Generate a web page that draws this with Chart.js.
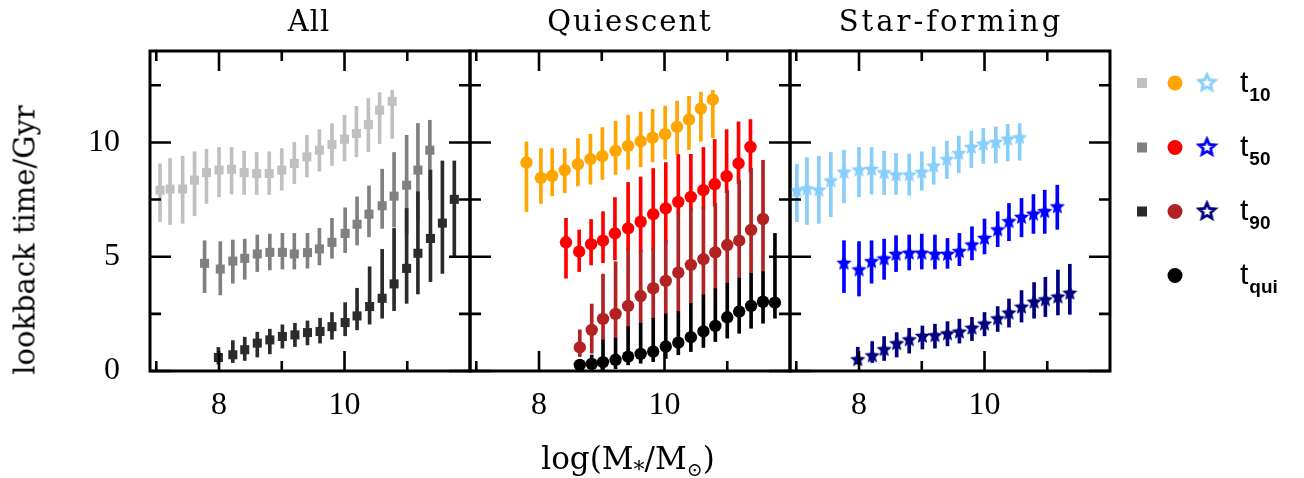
<!DOCTYPE html>
<html>
<head>
<meta charset="utf-8">
<script src="https://cdn.jsdelivr.net/npm/chart.js@4.4.1/dist/chart.umd.min.js"></script>
<style>
  html, body { margin: 0; padding: 0; background: #fff; }
  #wrap { position: relative; width: 1304px; height: 478px; overflow: hidden; background: #fff; }
  #wrap canvas { position: absolute; left: 0; top: 0; }
  .txt { position: absolute; font-family: "DejaVu Serif", serif; color: #000; white-space: nowrap; line-height: 1; }
  .title { font-size: 29px; top: 7px; transform: translateX(-50%); }
  .leg { position: absolute; font-family: "Liberation Sans", Arial, sans-serif; font-size: 30px; line-height: 1; color: #000; white-space: nowrap; }
  .leg span { position: relative; top: 9px; font-size: 19px; font-weight: bold; margin-left: 1px; }
</style>
</head>
<body>
<div id="wrap">
  <canvas id="c1" width="1304" height="478"></canvas>
  <canvas id="c2" width="1304" height="478"></canvas>
  <canvas id="c3" width="1304" height="478"></canvas>
  <div class="txt title" style="left:309px;letter-spacing:1px;">All</div>
  <div class="txt title" style="left:630px;letter-spacing:2px;">Quiescent</div>
  <div class="txt title" style="left:951px;letter-spacing:3px;">Star-forming</div>
  <div class="txt" style="font-size:29px;left:25px;top:240px;transform:translate(-50%,-50%) rotate(-90deg);">lookback time/Gyr</div>
  <div class="txt" style="font-size:31px;left:628px;top:443px;transform:translateX(-50%);">log(M<span style="position:relative;top:8px;font-size:22px;">*</span>/M<span style="position:relative;top:7px;font-size:19px;">&#8857;</span>)</div>
  <div class="leg" style="left:1240px;top:67px;">t<span>10</span></div>
  <div class="leg" style="left:1240px;top:131px;">t<span>50</span></div>
  <div class="leg" style="left:1240px;top:195px;">t<span>90</span></div>
  <div class="leg" style="left:1240px;top:259px;">t<span>qui</span></div>
</div>
<script>
// ---------------- DATA ----------------
// tick values
const xMajorTicks = [8, 10];
const xMinorTicks = [7, 9, 11];
const yMajorTicks = [0, 5, 10];
const yMinorTicks = [2.5, 7.5, 12.5];
const xTickLabels = [8, 10];
const yTickLabels = [0, 5, 10];

// Panel "All"
const allT10X  = [7.06,7.22,7.42,7.61,7.80,8.00,8.20,8.40,8.60,8.80,9.00,9.20,9.40,9.60,9.80,10.00,10.19,10.38,10.56,10.76];
const allT10Y  = [7.91,7.96,7.96,8.35,8.68,8.79,8.83,8.68,8.64,8.64,8.79,9.08,9.37,9.66,9.91,10.14,10.39,10.78,11.41,11.80];
const allT10Lo = [6.54,6.41,6.46,6.79,7.33,7.62,7.74,7.72,7.72,7.72,7.91,8.20,8.49,8.74,8.99,9.19,9.37,9.59,9.95,10.17];
const allT10Hi = [9.06,9.30,9.40,9.59,9.70,9.78,9.78,9.62,9.56,9.59,9.73,10.00,10.31,10.56,10.82,11.19,11.58,11.92,12.18,12.28];

const allT50X  = [7.77,8.02,8.22,8.41,8.61,8.81,9.01,9.20,9.41,9.60,9.80,10.01,10.20,10.39,10.60,10.79,10.99,11.17,11.36];
const allT50Y  = [4.71,4.46,4.81,4.93,5.12,5.19,5.19,5.12,5.18,5.34,5.63,6.02,6.42,6.86,7.23,7.65,8.13,8.79,9.66];
const allT50Lo = [3.43,3.33,3.84,4.01,4.35,4.42,4.46,4.46,4.50,4.64,4.93,5.18,5.51,5.87,6.24,6.30,6.00,6.60,7.50];
const allT50Hi = [5.70,5.66,5.73,5.77,5.95,5.99,6.02,6.02,6.02,6.24,6.68,7.14,7.62,8.10,8.83,9.56,10.31,10.83,10.97];

const allT90X  = [7.99,8.22,8.41,8.61,8.81,9.01,9.21,9.41,9.61,9.80,10.01,10.20,10.40,10.60,10.79,10.99,11.17,11.37,11.56,11.75];
const allT90Y  = [0.59,0.71,0.93,1.22,1.36,1.51,1.58,1.68,1.73,1.94,2.12,2.41,2.82,3.18,3.81,4.49,5.15,5.80,6.47,7.51];
const allT90Lo = [0.30,0.37,0.46,0.61,0.75,1.00,1.07,1.14,1.22,1.39,1.54,1.80,2.05,2.31,2.64,2.96,3.37,3.91,4.27,5.00];
const allT90Hi = [1.03,1.33,1.48,1.70,1.83,2.02,2.09,2.19,2.31,2.56,2.99,3.62,4.56,5.32,6.24,7.11,7.84,8.79,9.19,9.19];

// Panel "Quiescent"
const quiT10X  = [7.80,8.03,8.21,8.41,8.62,8.82,9.01,9.22,9.42,9.62,9.81,10.01,10.20,10.39,10.58,10.77];
const quiT10Y  = [9.12,8.45,8.54,8.79,9.05,9.27,9.40,9.63,9.85,10.05,10.21,10.36,10.68,11.00,11.48,11.87];
const quiT10Lo = [6.97,7.33,7.66,7.80,8.10,8.17,8.38,8.60,8.82,8.93,9.15,9.27,9.48,9.69,10.05,10.21];
const quiT10Hi = [10.02,9.73,9.73,9.73,10.17,10.36,10.65,10.93,11.19,11.33,11.45,11.59,11.81,12.02,12.20,12.28];

const quiT50X  = [8.43,8.64,8.83,9.02,9.21,9.42,9.62,9.82,10.02,10.22,10.42,10.62,10.80,10.99,11.18,11.37];
const quiT50Y  = [5.63,5.22,5.55,5.70,6.02,6.24,6.53,6.86,7.11,7.40,7.62,7.91,8.17,8.52,9.08,9.80];
const quiT50Lo = [4.06,4.35,4.64,4.74,4.86,5.30,5.20,5.30,5.60,6.90,7.00,7.10,7.20,7.80,8.20,8.70];
const quiT50Hi = [6.68,6.17,6.63,6.97,7.59,8.25,8.49,8.86,9.12,9.47,9.48,9.78,10.13,10.56,10.90,11.00];

const quiT90X  = [8.65,8.84,9.02,9.22,9.42,9.62,9.82,10.02,10.22,10.42,10.62,10.81,11.00,11.19,11.38,11.57];
const quiT90Y  = [1.03,1.80,2.28,2.50,2.85,3.28,3.62,3.94,4.30,4.64,4.89,5.19,5.51,5.70,6.17,6.65];
const quiT90Lo = [0.63,0.78,1.36,1.44,1.94,2.09,2.31,2.50,2.60,2.96,3.33,3.60,3.84,4.06,4.27,4.35];
const quiT90Hi = [1.80,2.93,4.24,4.78,5.37,5.29,5.37,5.73,6.97,7.11,7.18,7.33,7.91,8.35,8.86,9.22];

const quiTquX  = [8.65,8.84,9.02,9.22,9.42,9.62,9.82,10.02,10.22,10.42,10.62,10.81,11.00,11.19,11.38,11.57,11.76];
const quiTquY  = [0.27,0.31,0.39,0.49,0.63,0.75,0.85,1.07,1.24,1.48,1.73,1.97,2.35,2.60,2.85,3.03,2.99];
const quiTquLo = [0.10,0.05,0.05,0.10,0.27,0.34,0.41,0.55,0.71,0.85,1.03,1.29,1.44,1.65,1.87,2.09,2.31];
const quiTquHi = [0.45,0.70,1.36,1.44,1.94,2.09,2.31,2.50,2.60,2.96,3.33,3.60,3.84,4.06,4.27,4.35,6.02];

// Panel "Star-forming"
const sfT10X  = [7.01,7.17,7.36,7.55,7.76,8.00,8.20,8.40,8.59,8.80,9.00,9.19,9.40,9.59,9.79,9.98,10.18,10.37,10.56];
const sfT10Y  = [7.88,7.96,7.91,8.31,8.69,8.79,8.82,8.67,8.57,8.57,8.69,8.96,9.25,9.51,9.78,9.92,10.00,10.14,10.20];
const sfT10Lo = [6.53,6.41,6.46,6.75,7.36,7.62,7.74,7.72,7.72,7.69,7.91,8.17,8.42,8.67,8.90,9.08,9.10,9.19,9.22];
const sfT10Hi = [9.05,9.34,9.40,9.56,9.66,9.78,9.78,9.62,9.52,9.49,9.59,9.80,10.05,10.28,10.50,10.61,10.68,10.79,10.82];

const sfT50X  = [7.76,8.00,8.20,8.40,8.59,8.80,9.00,9.21,9.41,9.60,9.80,10.00,10.21,10.39,10.59,10.78,10.96,11.16];
const sfT50Y  = [4.71,4.42,4.78,4.90,5.10,5.15,5.15,5.10,5.10,5.22,5.51,5.80,6.17,6.53,6.72,6.86,6.97,7.18];
const sfT50Lo = [3.43,3.28,3.84,4.01,4.35,4.42,4.46,4.46,4.49,4.61,4.86,5.12,5.44,5.70,5.87,6.02,6.02,6.20];
const sfT50Hi = [5.70,5.66,5.70,5.77,5.92,5.95,5.99,5.95,5.80,6.02,6.31,6.65,6.97,7.33,7.55,7.72,7.91,8.13];

const sfT90X  = [7.98,8.21,8.40,8.60,8.80,9.01,9.21,9.41,9.60,9.80,10.00,10.21,10.39,10.59,10.79,10.97,11.17,11.36];
const sfT90Y  = [0.49,0.66,0.93,1.19,1.36,1.51,1.54,1.62,1.70,1.87,2.05,2.28,2.53,2.79,3.01,3.11,3.23,3.40];
const sfT90Lo = [0.31,0.37,0.46,0.61,0.78,0.96,1.00,1.10,1.22,1.33,1.54,1.73,1.92,2.14,2.31,2.38,2.45,2.48];
const sfT90Hi = [1.04,1.29,1.51,1.68,1.87,1.97,2.05,2.16,2.27,2.35,2.56,2.82,3.15,3.52,3.87,4.10,4.42,4.67];

// ---------------- STYLE ----------------
Chart.defaults.color = '#000';
const C = {
  g1: '#c0c0c0', g2: '#808080', g3: '#2b2b2b',
  o: '#ffa500', r: '#ff0000', br: '#b22222', k: '#000000',
  lb: '#87cefa', b: '#0000ff', nv: '#000080'
};

function starCanvas(color, R, filled, lw) {
  const s = Math.ceil(2 * R + (lw || 0) + 3);
  const c = document.createElement('canvas');
  c.width = s; c.height = s;
  const g = c.getContext('2d');
  g.beginPath();
  for (let i = 0; i < 10; i++) {
    const r = i % 2 ? R * 0.46 : R;
    const a = -Math.PI / 2 + i * Math.PI / 5;
    g.lineTo(s / 2 + r * Math.cos(a), s / 2 + r * Math.sin(a));
  }
  g.closePath();
  if (filled) { g.fillStyle = color; g.fill(); }
  else { g.strokeStyle = color; g.lineWidth = lw; g.lineJoin = 'miter'; g.stroke(); }
  return c;
}

function series(xs, ys, lo, hi, color, style, radius, k) {
  return [
    { type: 'bar', data: xs.map((x, i) => ({ x: x, y: [lo[i], hi[i]] })),
      backgroundColor: color, borderWidth: 0, barThickness: 3, grouped: false, order: 20 - 2 * k },
    { type: 'scatter', data: xs.map((x, i) => ({ x: x, y: ys[i] })),
      pointStyle: style, pointRadius: radius, pointHoverRadius: radius,
      backgroundColor: color, borderColor: color, pointBorderWidth: 0, order: 19 - 2 * k }
  ];
}

const frameTicks = {
  id: 'frameTicks',
  afterDraw(chart) {
    const ctx = chart.ctx, a = chart.chartArea, xs = chart.scales.x, ys = chart.scales.y;
    ctx.save();
    ctx.strokeStyle = '#000';
    ctx.lineWidth = 2.6;
    ctx.beginPath();
    const vt = (v, L) => { const p = xs.getPixelForValue(v);
      ctx.moveTo(p, a.bottom); ctx.lineTo(p, a.bottom - L);
      ctx.moveTo(p, a.top); ctx.lineTo(p, a.top + L); };
    const ht = (v, L) => { const p = ys.getPixelForValue(v);
      ctx.moveTo(a.left, p); ctx.lineTo(a.left + L, p);
      ctx.moveTo(a.right, p); ctx.lineTo(a.right - L, p); };
    xMajorTicks.forEach(v => vt(v, 20));
    xMinorTicks.forEach(v => vt(v, 10));
    yMajorTicks.forEach(v => ht(v, 21));
    yMinorTicks.forEach(v => ht(v, 11));
    ctx.stroke();
    ctx.lineWidth = 3;
    ctx.strokeRect(a.left, a.top, a.right - a.left, a.bottom - a.top);
    ctx.restore();
  }
};

const legendRows = [83, 147.5, 211.5, 275.5];
const legendSquares = [C.g1, C.g2, C.g3];
const legendCircles = [C.o, C.r, C.br, C.k];
const legendStars = [C.lb, C.b, C.nv].map(c => starCanvas(c, 8.5, false, 2.8));
const legendPlugin = {
  id: 'sideLegend',
  afterDraw(chart) {
    const ctx = chart.ctx;
    ctx.save();
    legendSquares.forEach((c, i) => { ctx.fillStyle = c; ctx.fillRect(1137, legendRows[i] - 5, 10, 10); });
    legendCircles.forEach((c, i) => { ctx.fillStyle = c; ctx.beginPath(); ctx.arc(1175, legendRows[i], 7.5, 0, 2 * Math.PI); ctx.fill(); });
    legendStars.forEach((img, i) => ctx.drawImage(img, 1207 - img.width / 2, legendRows[i] - img.height / 2));
    ctx.restore();
  }
};

function makePanel(id, left, right, showY, datasets, extra) {
  return new Chart(document.getElementById(id), {
    type: 'scatter',
    data: { datasets: datasets },
    options: {
      responsive: false, animation: false, events: [],
      layout: { autoPadding: false, padding: { left: left, right: 1304 - right, top: 51, bottom: 0 } },
      plugins: { legend: { display: false }, tooltip: { enabled: false } },
      scales: {
        x: { type: 'linear', min: 6.9, max: 12.0, offset: false,
             grid: { display: false, drawTicks: false }, border: { display: false },
             afterBuildTicks: s => { s.ticks = xTickLabels.map(v => ({ value: v })); },
             afterFit: s => { s.height = 107; },
             ticks: { padding: 15, maxRotation: 0, font: { family: 'Liberation Serif', size: 32 }, color: '#000' } },
        y: { type: 'linear', min: 0, max: 14, display: showY,
             grid: { display: false, drawTicks: false }, border: { display: false },
             afterBuildTicks: s => { s.ticks = yTickLabels.map(v => ({ value: v })); },
             afterFit: s => { if (showY) s.width = 150; },
             ticks: { padding: 30, font: { family: 'Liberation Serif', size: 32 }, color: '#000' } }
      }
    },
    plugins: [frameTicks].concat(extra || [])
  });
}

const circle = 'circle', square = 'rect';
const sfStar1 = starCanvas(C.lb, 8, true);
const sfStar2 = starCanvas(C.b, 8, true);
const sfStar3 = starCanvas(C.nv, 8, true);

makePanel('c1', 0, 470, true, [].concat(
  series(allT10X, allT10Y, allT10Lo, allT10Hi, C.g1, square, 6.4, 0),
  series(allT50X, allT50Y, allT50Lo, allT50Hi, C.g2, square, 6.4, 1),
  series(allT90X, allT90Y, allT90Lo, allT90Hi, C.g3, square, 6.4, 2)
));

makePanel('c2', 470, 790, false, [].concat(
  series(quiT10X, quiT10Y, quiT10Lo, quiT10Hi, C.o, circle, 6.2, 0),
  series(quiT50X, quiT50Y, quiT50Lo, quiT50Hi, C.r, circle, 6.2, 1),
  series(quiT90X, quiT90Y, quiT90Lo, quiT90Hi, C.br, circle, 6.2, 2),
  series(quiTquX, quiTquY, quiTquLo, quiTquHi, C.k, circle, 6.2, 3)
));

makePanel('c3', 790, 1110, false, [].concat(
  series(sfT10X, sfT10Y, sfT10Lo, sfT10Hi, C.lb, sfStar1, 8, 0),
  series(sfT50X, sfT50Y, sfT50Lo, sfT50Hi, C.b, sfStar2, 8, 1),
  series(sfT90X, sfT90Y, sfT90Lo, sfT90Hi, C.nv, sfStar3, 8, 2)
), [legendPlugin]);
</script>
</body>
</html>
